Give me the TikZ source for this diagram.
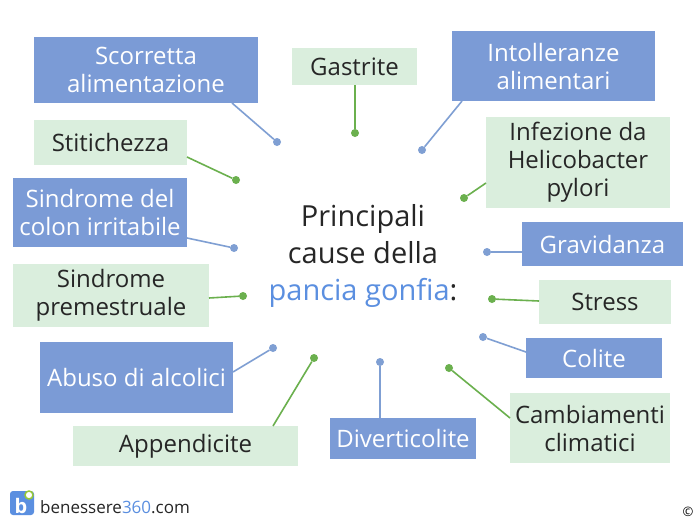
\documentclass[tikz,border=0pt]{standalone}
\usepackage{fontspec}
\setmainfont{Open Sans}
\definecolor{bbox}{HTML}{7B9BD6}
\definecolor{gbox}{HTML}{DAEEDD}
\definecolor{bline}{HTML}{7F9FD3}
\definecolor{gline}{HTML}{6BB04E}
\definecolor{tblue}{HTML}{5B8FE0}
\begin{document}
\begin{tikzpicture}[x=1pt,y=-1pt,
 bl/.style={fill=bbox,text=white,align=center,font=\fontsize{24}{28}\selectfont,inner sep=0},
 gr/.style={fill=gbox,text=black!85,align=center,font=\fontsize{24}{28}\selectfont,inner sep=0},
 bc/.style={draw=bline,line width=1.6pt},
 gc/.style={draw=gline,line width=1.6pt},
 bd/.style={circle,fill=bline,inner sep=0,minimum size=8pt},
 gd/.style={circle,fill=gline,inner sep=0,minimum size=8pt}]
\useasboundingbox (0,0) rectangle (700,525);
\fill[white] (0,0) rectangle (700,525);
\newcommand\bx[7]{\node[#2,minimum width={(#5-#3)*1pt},minimum height={(#6-#4)*1pt}] (#1) at ({(#3+#5)/2},{(#4+#6)/2}) {#7};}
\bx{a}{bl}{34}{37}{258}{103}{Scorretta\\alimentazione}
\bx{b}{gr}{292}{48}{417}{85}{Gastrite}
\bx{c}{bl}{452}{31}{655}{101}{Intolleranze\\alimentari}
\bx{d}{gr}{34}{120}{187}{165}{Stitichezza}
\bx{e}{gr}{486}{117}{670}{208}{Infezione da\\Helicobacter\\pylori}
\bx{f}{bl}{13}{178}{187}{247}{Sindrome del\\colon irritabile}
\bx{g}{bl}{522}{222}{683}{266}{Gravidanza}
\bx{h}{gr}{13}{264}{209}{327}{Sindrome\\premestruale}
\bx{i}{gr}{539}{280}{671}{324}{Stress}
\bx{j}{bl}{40}{342}{233}{413}{Abuso di alcolici}
\bx{k}{bl}{526}{338}{662}{378}{Colite}
\bx{l}{gr}{73}{426}{298}{466}{Appendicite}
\bx{m}{bl}{330}{418}{476}{459}{Diverticolite}
\bx{n}{gr}{510}{393}{670}{463}{Cambiamenti\\climatici}
\node[bd] (da) at (277,142) {};
\node[gd] (db) at (355,133) {};
\node[bd] (dc) at (422,150) {};
\node[gd] (dd) at (236,180) {};
\node[gd] (de) at (464,198) {};
\node[bd] (df) at (234,248) {};
\node[bd] (dg) at (487,252) {};
\node[gd] (dh) at (243,296) {};
\node[gd] (di) at (492,299) {};
\node[bd] (dj) at (273,348) {};
\node[bd] (dk) at (483,337) {};
\node[gd] (dl) at (314,358) {};
\node[bd] (dm) at (380,362) {};
\node[gd] (dn) at (449,368) {};
\coordinate (pa) at (232,103); \coordinate (pb) at (355,85); \coordinate (pc) at (462,101);
\coordinate (pd) at (187,157); \coordinate (pe) at (486,183); \coordinate (pf) at (187,238);
\coordinate (pg) at (522,252); \coordinate (ph) at (209,298); \coordinate (pi) at (539,301);
\coordinate (pj) at (233,372); \coordinate (pk) at (526,352); \coordinate (pl) at (273,426);
\coordinate (pm) at (380,418); \coordinate (pn) at (510,418);
\draw[bc] (pa)--(da); \draw[gc] (pb)--(db); \draw[bc] (pc)--(dc); \draw[gc] (pd)--(dd);
\draw[gc] (pe)--(de); \draw[bc] (pf)--(df); \draw[bc] (pg)--(dg); \draw[gc] (ph)--(dh);
\draw[gc] (pi)--(di); \draw[bc] (pj)--(dj); \draw[bc] (pk)--(dk); \draw[gc] (pl)--(dl);
\draw[bc] (pm)--(dm); \draw[gc] (pn)--(dn);
\node[align=center,font=\fontsize{29}{37}\selectfont,text=black!85] (t) at (363,256)
 {Principali\\cause della\\\textcolor{tblue}{pancia gonfia}:};
\node[fill=tblue,rounded corners=3pt,minimum size=24pt,inner sep=0] (logo) at (22,503) {};
\node[text=white,font=\bfseries\fontsize{20}{20}\selectfont,inner sep=0] (lb) at (21,506) {b};
\node[circle,draw=gline!70!yellow,line width=1.5pt,fill=white,minimum size=8pt,inner sep=0] (lc) at (29,495) {};
\node[anchor=west,font=\fontsize{17}{18}\selectfont,text=black!85,inner sep=0] (url) at (40,507) {benessere\textcolor{tblue}{360}.com};
\node[font=\fontsize{13}{13}\selectfont,inner sep=0] (copy) at (688,512) {©};
\end{tikzpicture}
\end{document}
